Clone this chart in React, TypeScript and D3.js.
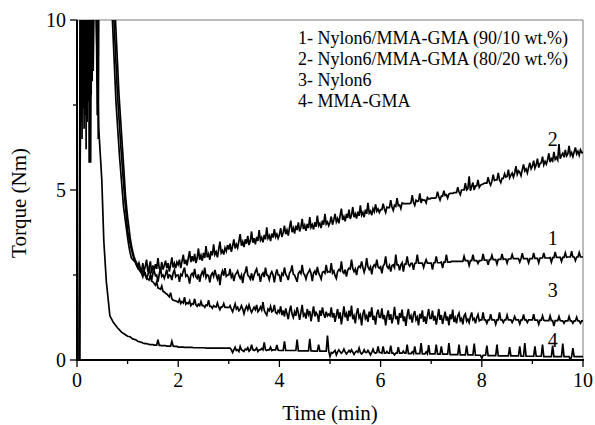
import React from "react";
import * as d3 from "d3";

// ---------- data ----------
const legendEntries = [
  "1- Nylon6/MMA-GMA (90/10 wt.%)",
  "2- Nylon6/MMA-GMA (80/20 wt.%)",
  "3- Nylon6",
  "4- MMA-GMA",
];
const curveLabels = ["1", "2", "3", "4"];
const curveLabelY = [3.38, 6.29, 1.85, 0.38];
const curveLabelX = 9.4;

const xMajorTicks = [0, 2, 4, 6, 8, 10];
const xMinorTicks = [1, 3, 5, 7, 9];
const yMajorTicks = [0, 5, 10];
const yMinorTicks = [2.5, 7.5];

// early part (loading peak and fall), irregular times (min)
const earlyT1 = [0, 0.05, 0.08, 0.36, 0.4, 0.44, 0.6, 0.73, 0.8, 0.87, 0.94];
const earlyV1 = [0, 0, 14, 14, 7.2, 14, 14, 10, 7.8, 6.2, 4.8];
const earlyT2 = [0, 0.05, 0.08, 0.25, 0.27, 0.29, 0.6, 0.76, 0.83, 0.9, 0.96];
const earlyV2 = [0, 0, 14, 14, 5.8, 14, 14, 10, 7.8, 6.2, 4.8];
const earlyT3 = [0, 0.05, 0.08, 0.4, 0.42, 0.44, 0.6, 0.7, 0.77, 0.84, 0.92];
const earlyV3 = [0, 0, 14, 14, 6.5, 14, 14, 10, 7.6, 6.0, 4.5];
const earlyT4 = [0, 0.04, 0.065, 0.08, 0.09, 0.1, 0.11, 0.12, 0.13, 0.14, 0.15, 0.16, 0.17, 0.18, 0.19, 0.2, 0.21, 0.22, 0.23, 0.24, 0.25, 0.26, 0.27, 0.28, 0.29, 0.3, 0.31, 0.32, 0.35, 0.38, 0.43, 0.49, 0.53, 0.58, 0.65, 0.72, 0.8, 0.88, 0.95];
const earlyV4 = [0, 0, 12, 7.0, 12, 6.5, 12.5, 7.4, 12, 6.8, 13, 7.2, 12, 6.2, 12.5, 7.0, 12, 7.6, 13, 5.8, 12, 7.2, 12.5, 7.8, 12, 8.2, 13, 8.5, 12, 10, 6.8, 5.3, 3.5, 2.3, 1.3, 1.1, 0.95, 0.82, 0.75];

// later part: one row of readings per minute (1-2, 2-3, ... 9-10 min), evenly spaced within the minute
const late1 = [
  [3.8, 3.6, 3.42, 3.25, 3.1, 2.98, 2.88, 2.8, 2.72, 2.66, 2.6, 2.55, 2.45, 2.62, 2.5, 2.4, 2.5, 2.7, 2.52, 2.35, 2.55, 2.62, 2.48, 2.5, 2.3, 2.52, 2.7, 2.46, 2.5, 2.4, 2.52, 2.66, 2.4, 2.5, 2.48, 2.35, 2.56, 2.65, 2.45, 2.5],
  [2.5, 2.3, 2.52, 2.48, 2.62, 2.72, 2.46, 2.5, 2.44, 2.25, 2.5, 2.55, 2.47, 2.68, 2.45, 2.4, 2.52, 2.3, 2.5, 2.6, 2.5, 2.72, 2.42, 2.5, 2.48, 2.28, 2.5, 2.56, 2.46, 2.65, 2.5, 2.38, 2.52, 2.2, 2.5, 2.62, 2.48, 2.7, 2.46, 2.5],
  [2.5, 2.68, 2.44, 2.52, 2.32, 2.5, 2.55, 2.62, 2.48, 2.4, 2.5, 2.26, 2.52, 2.58, 2.75, 2.5, 2.46, 2.38, 2.55, 2.34, 2.5, 2.6, 2.68, 2.5, 2.52, 2.3, 2.5, 2.56, 2.44, 2.72, 2.5, 2.48, 2.36, 2.52, 2.6, 2.5, 2.28, 2.52, 2.66, 2.5],
  [2.5, 2.3, 2.55, 2.5, 2.72, 2.52, 2.46, 2.35, 2.56, 2.62, 2.78, 2.52, 2.5, 2.4, 2.3, 2.55, 2.6, 2.54, 2.8, 2.55, 2.5, 2.38, 2.52, 2.58, 2.66, 2.55, 2.32, 2.56, 2.62, 2.5, 2.74, 2.56, 2.48, 2.38, 2.58, 2.6, 2.55, 2.8, 2.58, 2.6],
  [2.58, 2.85, 2.56, 2.62, 2.48, 2.4, 2.6, 2.66, 2.62, 2.9, 2.6, 2.55, 2.66, 2.45, 2.64, 2.7, 2.68, 2.95, 2.7, 2.6, 2.68, 2.5, 2.7, 2.76, 2.72, 2.9, 2.72, 2.58, 2.72, 3.0, 2.74, 2.66, 2.74, 2.52, 2.74, 2.8, 2.74, 2.95, 2.74, 2.7],
  [2.74, 2.55, 2.76, 2.82, 3.05, 2.76, 2.7, 2.78, 2.6, 2.78, 2.8, 2.72, 3.1, 2.8, 2.8, 2.64, 2.8, 2.86, 2.6, 2.82, 2.82, 3.05, 2.82, 2.76, 2.84, 2.84, 2.65, 2.84, 2.85, 3.1, 2.85, 2.85, 2.85, 2.85, 2.72, 2.85, 2.95, 2.85, 2.85, 2.85],
  [2.85, 2.66, 2.86, 2.86, 3.05, 2.86, 2.86, 2.86, 2.88, 2.7, 2.88, 2.88, 3.1, 2.88, 2.88, 2.88, 2.9, 2.9, 2.9, 2.9, 2.9, 2.9, 2.9, 2.9, 2.9, 2.9, 3.05, 2.92, 2.92, 2.92, 2.78, 2.92, 2.92, 3.1, 2.92, 2.92, 2.92, 2.84, 2.92, 2.92],
  [2.93, 3.12, 2.94, 2.94, 2.94, 2.8, 2.95, 2.95, 3.08, 2.95, 2.95, 2.95, 2.82, 2.96, 2.96, 2.96, 3.12, 2.96, 2.97, 2.97, 2.85, 2.97, 2.97, 2.98, 3.1, 2.98, 2.98, 2.98, 2.98, 2.98, 2.88, 2.98, 3.14, 2.98, 2.98, 2.98, 2.98, 2.86, 2.98, 2.98],
  [2.98, 3.15, 2.99, 2.99, 2.99, 2.86, 3.0, 3.0, 3.0, 3.15, 3.0, 3.0, 3.0, 3.0, 3.01, 2.88, 3.01, 3.01, 3.18, 3.02, 3.02, 3.02, 3.02, 2.9, 3.02, 3.02, 3.15, 3.02, 3.03, 3.03, 3.03, 3.2, 3.03, 3.03, 2.92, 3.03, 3.03, 3.16, 3.03, 3.03],
];
const late2 = [
  [4.2, 3.9, 3.6, 3.38, 3.2, 3.05, 2.95, 2.86, 2.8, 2.74, 2.7, 2.58, 2.85, 2.62, 2.75, 2.95, 2.6, 2.72, 2.9, 2.55, 2.78, 2.64, 2.82, 2.68, 3.0, 2.7, 2.62, 2.88, 2.66, 2.78, 2.92, 2.7, 2.85, 2.6, 2.8, 3.02, 2.72, 2.84, 2.7, 2.88],
  [2.8, 2.95, 2.7, 2.9, 3.1, 2.82, 2.95, 2.78, 3.0, 3.2, 2.88, 3.05, 2.9, 3.12, 2.85, 3.0, 3.28, 2.95, 3.08, 2.92, 3.15, 3.0, 3.35, 3.02, 3.12, 2.95, 3.2, 3.08, 3.4, 3.1, 3.18, 3.02, 3.25, 3.48, 3.15, 3.22, 3.1, 3.3, 3.2, 3.38],
  [3.25, 3.42, 3.18, 3.35, 3.55, 3.28, 3.4, 3.3, 3.5, 3.7, 3.36, 3.48, 3.32, 3.55, 3.42, 3.65, 3.38, 3.5, 3.78, 3.45, 3.58, 3.4, 3.62, 3.5, 3.82, 3.52, 3.6, 3.46, 3.68, 3.55, 3.9, 3.58, 3.66, 3.5, 3.72, 3.6, 3.85, 3.62, 3.7, 3.58],
  [3.68, 3.88, 3.62, 3.75, 3.95, 3.7, 3.82, 3.66, 3.9, 4.1, 3.76, 3.88, 3.72, 3.95, 3.82, 4.05, 3.78, 3.9, 4.15, 3.85, 3.96, 3.8, 4.0, 3.88, 4.2, 3.9, 3.98, 3.84, 4.05, 3.92, 4.25, 3.95, 4.02, 3.88, 4.1, 3.98, 4.3, 4.0, 4.06, 3.95],
  [4.05, 4.22, 3.98, 4.12, 4.3, 4.06, 4.16, 4.02, 4.25, 4.45, 4.12, 4.22, 4.08, 4.3, 4.18, 4.42, 4.15, 4.26, 4.5, 4.2, 4.3, 4.16, 4.36, 4.24, 4.55, 4.26, 4.34, 4.2, 4.42, 4.3, 4.62, 4.32, 4.38, 4.26, 4.45, 4.36, 4.58, 4.38, 4.44, 4.34],
  [4.42, 4.42, 4.6, 4.44, 4.34, 4.5, 4.48, 4.48, 4.7, 4.5, 4.4, 4.55, 4.52, 4.76, 4.54, 4.56, 4.45, 4.62, 4.6, 4.6, 4.6, 4.6, 4.6, 4.6, 4.62, 4.85, 4.64, 4.55, 4.7, 4.66, 4.68, 4.9, 4.62, 4.72, 4.7, 4.7, 4.62, 4.78, 4.74, 4.74],
  [4.76, 4.76, 4.76, 4.76, 4.78, 4.95, 4.8, 4.7, 4.82, 4.82, 4.98, 4.84, 4.86, 4.76, 4.88, 4.9, 4.9, 4.9, 4.92, 4.92, 4.92, 5.08, 4.94, 4.86, 5.0, 5.0, 5.0, 5.2, 5.0, 5.04, 5.4, 4.98, 5.1, 5.22, 5.0, 5.12, 5.12, 5.3, 5.08, 5.14],
  [5.16, 5.18, 5.2, 5.2, 5.2, 5.38, 5.22, 5.14, 5.26, 5.45, 5.28, 5.3, 5.3, 5.5, 5.3, 5.22, 5.34, 5.34, 5.48, 5.38, 5.4, 5.6, 5.36, 5.44, 5.5, 5.38, 5.5, 5.7, 5.46, 5.56, 5.52, 5.42, 5.6, 5.75, 5.56, 5.62, 5.5, 5.66, 5.8, 5.62],
  [5.7, 5.86, 5.64, 5.74, 5.92, 5.66, 5.78, 5.8, 5.98, 5.74, 5.84, 5.76, 5.88, 6.08, 5.82, 5.92, 5.86, 6.12, 5.9, 5.96, 5.88, 6.35, 5.92, 6.02, 6.08, 5.96, 6.18, 6.0, 6.06, 6.3, 6.02, 6.1, 5.98, 6.12, 6.25, 6.06, 6.14, 6.02, 6.18, 6.1],
];
const late3 = [
  [3.6, 3.35, 3.15, 3.0, 2.95, 2.92, 2.9, 2.8, 2.72, 2.85, 2.7, 2.62, 2.6, 2.5, 2.55, 2.4, 2.38, 2.35, 2.5, 2.32, 2.3, 2.25, 2.2, 2.3, 2.12, 2.1, 2.08, 2.18, 2.02, 2.0, 1.96, 1.94, 1.9, 1.86, 1.98, 1.8, 1.76, 1.75, 1.74, 1.72],
  [1.7, 1.78, 1.66, 1.72, 1.68, 1.85, 1.64, 1.68, 1.66, 1.74, 1.6, 1.66, 1.64, 1.8, 1.62, 1.58, 1.64, 1.6, 1.72, 1.6, 1.6, 1.55, 1.62, 1.6, 1.76, 1.58, 1.58, 1.52, 1.6, 1.57, 1.56, 1.68, 1.56, 1.48, 1.56, 1.56, 1.66, 1.55, 1.55, 1.55],
  [1.54, 1.6, 1.5, 1.42, 1.53, 1.65, 1.5, 1.55, 1.45, 1.5, 1.6, 1.5, 1.36, 1.5, 1.58, 1.48, 1.62, 1.49, 1.4, 1.48, 1.55, 1.48, 1.62, 1.42, 1.47, 1.56, 1.47, 1.7, 1.46, 1.38, 1.32, 1.5, 1.45, 1.58, 1.42, 1.45, 1.62, 1.4, 1.36, 1.46],
  [1.4, 1.58, 1.32, 1.46, 1.28, 1.52, 1.36, 1.2, 1.44, 1.6, 1.35, 1.25, 1.42, 1.3, 1.55, 1.38, 1.18, 1.4, 1.62, 1.3, 1.36, 1.22, 1.5, 1.34, 1.44, 1.14, 1.36, 1.58, 1.28, 1.4, 1.33, 1.12, 1.46, 1.3, 1.55, 1.36, 1.24, 1.42, 1.3, 1.35],
  [1.3, 1.55, 1.25, 1.38, 1.12, 1.32, 1.5, 1.22, 1.4, 1.05, 1.3, 1.58, 1.26, 1.36, 1.15, 1.45, 1.28, 1.6, 1.2, 1.3, 1.08, 1.38, 1.52, 1.24, 1.32, 1.02, 1.35, 1.48, 1.22, 1.3, 1.12, 1.42, 1.26, 1.55, 1.18, 1.3, 1.04, 1.36, 1.48, 1.26],
  [1.25, 1.52, 1.2, 1.32, 1.02, 1.28, 1.46, 1.18, 1.35, 1.08, 1.26, 1.56, 1.2, 1.3, 1.04, 1.38, 1.24, 1.48, 1.14, 1.28, 1.0, 1.32, 1.5, 1.2, 1.3, 1.1, 1.34, 1.44, 1.18, 1.26, 1.02, 1.36, 1.22, 1.46, 1.12, 1.28, 1.06, 1.3, 1.5, 1.22],
  [1.22, 1.45, 1.16, 1.3, 1.04, 1.26, 1.5, 1.18, 1.32, 1.06, 1.24, 1.42, 1.16, 1.28, 1.02, 1.34, 1.2, 1.48, 1.12, 1.24, 1.08, 1.3, 1.38, 1.16, 1.22, 1.05, 1.3, 1.36, 1.14, 1.2, 1.1, 1.28, 1.4, 1.18, 1.22, 1.08, 1.25, 1.34, 1.15, 1.18],
  [1.18, 1.4, 1.18, 1.18, 1.08, 1.18, 1.18, 1.35, 1.18, 1.18, 1.18, 1.05, 1.18, 1.18, 1.4, 1.18, 1.18, 1.1, 1.18, 1.18, 1.32, 1.18, 1.18, 1.18, 1.1, 1.18, 1.28, 1.18, 1.18, 1.18, 1.06, 1.18, 1.18, 1.34, 1.18, 1.18, 1.1, 1.18, 1.18, 1.18],
  [1.18, 1.35, 1.17, 1.17, 1.17, 1.05, 1.17, 1.17, 1.3, 1.17, 1.16, 1.16, 1.16, 1.16, 1.3, 1.16, 1.16, 1.0, 1.16, 1.16, 1.16, 1.28, 1.16, 1.15, 1.15, 1.08, 1.15, 1.15, 1.15, 1.28, 1.15, 1.15, 1.08, 1.15, 1.15, 1.26, 1.15, 1.15, 1.08, 1.15],
];
const late4 = [
  [0.7, 0.69, 0.68, 0.65, 0.62, 0.61, 0.6, 0.58, 0.55, 0.54, 0.53, 0.52, 0.5, 0.49, 0.48, 0.48, 0.47, 0.46, 0.45, 0.45, 0.45, 0.44, 0.44, 0.44, 0.6, 0.43, 0.43, 0.42, 0.42, 0.42, 0.42, 0.41, 0.41, 0.41, 0.41, 0.55, 0.41, 0.4, 0.4, 0.4],
  [0.38, 0.38, 0.38, 0.38, 0.38, 0.37, 0.37, 0.37, 0.37, 0.37, 0.37, 0.37, 0.36, 0.36, 0.36, 0.36, 0.36, 0.36, 0.36, 0.36, 0.36, 0.36, 0.35, 0.35, 0.35, 0.35, 0.35, 0.35, 0.35, 0.35, 0.35, 0.35, 0.35, 0.35, 0.35, 0.35, 0.35, 0.35, 0.35, 0.35],
  [0.35, 0.35, 0.3, 0.22, 0.3, 0.38, 0.28, 0.3, 0.25, 0.4, 0.3, 0.28, 0.25, 0.32, 0.3, 0.36, 0.26, 0.3, 0.45, 0.3, 0.28, 0.3, 0.35, 0.25, 0.3, 0.3, 0.34, 0.3, 0.52, 0.3, 0.28, 0.3, 0.3, 0.38, 0.28, 0.3, 0.3, 0.3, 0.44, 0.29],
  [0.28, 0.28, 0.28, 0.28, 0.55, 0.28, 0.28, 0.28, 0.28, 0.28, 0.28, 0.28, 0.28, 0.28, 0.6, 0.27, 0.27, 0.27, 0.27, 0.27, 0.27, 0.27, 0.27, 0.27, 0.62, 0.27, 0.27, 0.26, 0.26, 0.26, 0.26, 0.45, 0.26, 0.26, 0.26, 0.26, 0.26, 0.26, 0.72, 0.26],
  [0.1, 0.22, 0.2, 0.24, 0.28, 0.15, 0.24, 0.3, 0.24, 0.2, 0.24, 0.32, 0.24, 0.18, 0.23, 0.28, 0.23, 0.3, 0.23, 0.16, 0.23, 0.26, 0.23, 0.35, 0.22, 0.18, 0.22, 0.3, 0.22, 0.22, 0.28, 0.22, 0.15, 0.22, 0.32, 0.22, 0.2, 0.22, 0.4, 0.22],
  [0.22, 0.2, 0.4, 0.2, 0.2, 0.25, 0.2, 0.2, 0.42, 0.2, 0.2, 0.15, 0.2, 0.2, 0.38, 0.2, 0.2, 0.2, 0.26, 0.2, 0.2, 0.45, 0.19, 0.19, 0.19, 0.24, 0.19, 0.4, 0.19, 0.19, 0.19, 0.19, 0.5, 0.18, 0.18, 0.18, 0.24, 0.18, 0.44, 0.18],
  [0.18, 0.18, 0.18, 0.18, 0.45, 0.17, 0.17, 0.17, 0.4, 0.17, 0.17, 0.17, 0.17, 0.17, 0.5, 0.16, 0.16, 0.16, 0.16, 0.16, 0.16, 0.16, 0.45, 0.15, 0.15, 0.15, 0.15, 0.15, 0.42, 0.15, 0.15, 0.15, 0.15, 0.15, 0.48, 0.14, 0.14, 0.14, 0.14, 0.14],
  [0.05, 0.14, 0.14, 0.14, 0.42, 0.13, 0.13, 0.13, 0.13, 0.13, 0.13, 0.13, 0.45, 0.12, 0.12, 0.12, 0.12, 0.12, 0.12, 0.12, 0.12, 0.12, 0.38, 0.12, 0.12, 0.12, 0.12, 0.12, 0.12, 0.12, 0.4, 0.11, 0.11, 0.11, 0.5, 0.11, 0.11, 0.11, 0.11, 0.11],
  [0.11, 0.11, 0.4, 0.11, 0.11, 0.11, 0.11, 0.11, 0.45, 0.1, 0.1, 0.1, 0.1, 0.1, 0.1, 0.1, 0.42, 0.1, 0.1, 0.1, 0.1, 0.1, 0.1, 0.1, 0.48, 0.1, 0.1, 0.1, 0.1, 0.1, 0.0, 0.1, 0.35, 0.1, 0.1, 0.1, 0.1, 0.1, 0.1, 0.1],
];
const finalValues = [3.03, 6.1, 1.15, 0.1]; // readings at 10.0 min
const lateStartMinute = 1;
const endTime = 10;

// ---------- layout ----------
const W = 595;
const H = 425;
const M = { left: 77, right: 12, top: 20, bottom: 65 };
const FONT = "'Liberation Serif', 'Times New Roman', Times, serif";

function buildSeries(et: number[], ev: number[], late: number[][], last: number): [number, number][] {
  const pts: [number, number][] = et.map((t, i) => [t, ev[i]]);
  late.forEach((row, r) => {
    const step = 1 / row.length;
    row.forEach((v, k) => pts.push([lateStartMinute + r + k * step, v]));
  });
  pts.push([endTime, last]);
  return pts;
}

export default function App() {
  const x = d3.scaleLinear().domain([0, 10]).range([M.left, W - M.right]);
  const y = d3.scaleLinear().domain([0, 10]).range([H - M.bottom, M.top]);
  const line = d3
    .line<[number, number]>()
    .x((d) => x(d[0]))
    .y((d) => y(d[1]));

  const series = [
    buildSeries(earlyT1, earlyV1, late1, finalValues[0]),
    buildSeries(earlyT2, earlyV2, late2, finalValues[1]),
    buildSeries(earlyT3, earlyV3, late3, finalValues[2]),
    buildSeries(earlyT4, earlyV4, late4, finalValues[3]),
  ];

  const x0 = x(0), x1 = x(10), y0 = y(0), y1 = y(10);

  return (
    <svg
      width={W}
      height={H}
      style={{ position: "absolute", left: 0, top: 0, background: "#fff" }}
      fontFamily={FONT}
    >
      <defs>
        <clipPath id="plotclip">
          <rect x={x0} y={y1} width={x1 - x0} height={y0 - y1} />
        </clipPath>
      </defs>
      <rect x={0} y={0} width={W} height={H} fill="#fff" />

      {/* frame top/right */}
      <line x1={x0} x2={x1} y1={y1} y2={y1} stroke="#7a7a7a" strokeWidth={1} />
      <line x1={x1} x2={x1} y1={y1} y2={y0} stroke="#7a7a7a" strokeWidth={1} />

      {/* data */}
      <g clipPath="url(#plotclip)">
        {series.map((s, i) => (
          <path key={i} d={line(s) || ""} fill="none" stroke="#000" strokeWidth={1.7} strokeLinejoin="miter" />
        ))}
      </g>

      {/* axes */}
      <line x1={x0} x2={x1 + 1} y1={y0} y2={y0} stroke="#000" strokeWidth={2} />
      <line x1={x0} x2={x0} y1={y1} y2={y0 + 1} stroke="#000" strokeWidth={2} />

      {xMajorTicks.map((t) => (
        <g key={"xm" + t}>
          <line x1={x(t)} x2={x(t)} y1={y0} y2={y0 + 7} stroke="#000" strokeWidth={1.3} />
          <text x={x(t)} y={y0 + 27} textAnchor="middle" fontSize={20}>
            {t}
          </text>
        </g>
      ))}
      {xMinorTicks.map((t) => (
        <line key={"xn" + t} x1={x(t)} x2={x(t)} y1={y0} y2={y0 + 4} stroke="#000" strokeWidth={1.3} />
      ))}
      {yMajorTicks.map((t) => (
        <g key={"ym" + t}>
          <line x1={x0 - 7} x2={x0} y1={y(t)} y2={y(t)} stroke="#000" strokeWidth={1.3} />
          <text x={x0 - 11} y={y(t)} dy="0.35em" textAnchor="end" fontSize={20}>
            {t}
          </text>
        </g>
      ))}
      {yMinorTicks.map((t) => (
        <line key={"yn" + t} x1={x0 - 4} x2={x0} y1={y(t)} y2={y(t)} stroke="#000" strokeWidth={1.3} />
      ))}

      {/* axis titles */}
      <text x={(x0 + x1) / 2} y={420} textAnchor="middle" fontSize={21}>
        Time (min)
      </text>
      <text transform={`translate(26,203) rotate(-90)`} textAnchor="middle" fontSize={21}>
        Torque (Nm)
      </text>

      {/* legend */}
      {legendEntries.map((s, i) => (
        <text key={"lg" + i} x={298} y={44 + i * 21} fontSize={18}>
          {s}
        </text>
      ))}

      {/* curve labels */}
      {curveLabels.map((s, i) => (
        <text key={"cl" + i} x={x(curveLabelX)} y={y(curveLabelY[i])} textAnchor="middle" fontSize={20}>
          {s}
        </text>
      ))}
    </svg>
  );
}
